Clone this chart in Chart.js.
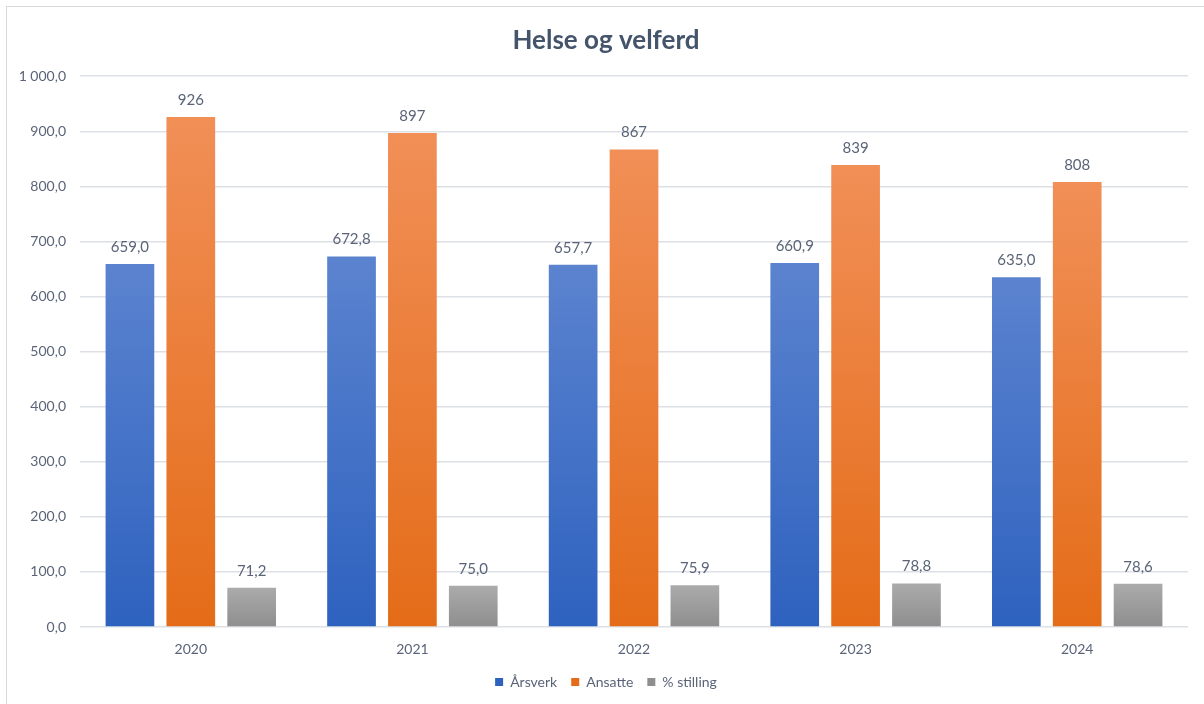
<!DOCTYPE html>
<html>
<head>
<meta charset="utf-8">
<script src="https://cdn.jsdelivr.net/npm/chart.js@4/dist/chart.umd.min.js"></script>
<style>
  html, body { margin: 0; padding: 0; background: #fff; }
  #wrap { width: 1204px; height: 704px; position: relative; }
</style>
</head>
<body>
<div id="wrap"><canvas id="helseChart" width="1204" height="704"></canvas></div>
<script>
// data
const years = ['2020', '2021', '2022', '2023', '2024'];
const arsverk = [659.0, 672.8, 657.7, 660.9, 635.0];
const ansatte = [926, 897, 867, 839, 808];
const stilling = [71.2, 75.0, 75.9, 78.8, 78.6];
const yTicks = [0, 100, 200, 300, 400, 500, 600, 700, 800, 900, 1000];

const textColor = '#5A6478';
const fontFamily = 'Lato, "Liberation Sans", sans-serif';

// 0,0 / 1 000,0 style
function fmt(v, dec) {
    const s = v.toFixed(dec).split('.');
    const intPart = s[0].replace(/\B(?=(\d{3})+(?!\d))/g, ' ');
    return s.length > 1 ? intPart + ',' + s[1] : intPart;
}

// gradient per bar, top lighter than bottom
function barFill(top, bottom, solid) {
    return (c) => {
        const chart = c.chart;
        if (c.type !== 'data' || !chart.chartArea) return solid;
        const y = chart.scales.y;
        const y0 = y.getPixelForValue(c.raw);
        const y1 = y.getPixelForValue(0);
        const g = chart.ctx.createLinearGradient(0, y0, 0, y1);
        g.addColorStop(0, top);
        g.addColorStop(1, bottom);
        return g;
    };
}

// labels over the bars
const valueLabels = {
    id: 'valueLabels',
    afterLayout(chart) {
        // y labels are wider than the axis box, don't clip them
        chart.scales.y._computeLabelArea = () => undefined;
    },
    afterDatasetsDraw(chart) {
        const ctx = chart.ctx;
        ctx.save();
        ctx.font = '15px ' + fontFamily;
        ctx.fillStyle = textColor;
        ctx.textAlign = 'center';
        ctx.textBaseline = 'middle';
        chart.data.datasets.forEach((ds, i) => {
            const meta = chart.getDatasetMeta(i);
            meta.data.forEach((bar, j) => {
                ctx.fillText(fmt(ds.data[j], ds.decimals), bar.x, bar.y - 17);
            });
        });
        ctx.restore();
    }
};

// thin frame round the chart
const frame = {
    id: 'frame',
    beforeDraw(chart) {
        const ctx = chart.ctx;
        ctx.save();
        ctx.fillStyle = '#fff';
        ctx.fillRect(0, 0, chart.width, chart.height);
        ctx.strokeStyle = '#D9D9D9';
        ctx.lineWidth = 1;
        ctx.strokeRect(6.5, 6.5, chart.width, chart.height);
        ctx.restore();
    }
};

new Chart(document.getElementById('helseChart').getContext('2d'), {
    type: 'bar',
    data: {
        labels: years,
        datasets: [{
            label: 'Årsverk',
            data: arsverk,
            decimals: 1,
            backgroundColor: barFill('#5B83CF', '#2E62BF', '#4472C4')
        }, {
            label: 'Ansatte',
            data: ansatte,
            decimals: 0,
            backgroundColor: barFill('#F18F57', '#E46C18', '#ED7D31')
        }, {
            label: '% stilling',
            data: stilling,
            decimals: 1,
            backgroundColor: barFill('#ABABAB', '#8E8E8E', '#A5A5A5')
        }]
    },
    options: {
        responsive: false,
        animation: false,
        categoryPercentage: 0.824,
        barPercentage: 0.8,
        layout: { padding: { left: 24, right: 16, top: 0, bottom: 5 } },
        plugins: {
            title: {
                display: true,
                text: 'Helse og velferd',
                color: '#44546A',
                font: { family: fontFamily, size: 26, weight: 'bold' },
                padding: { top: 25, bottom: 20 }
            },
            legend: {
                position: 'bottom',
                labels: {
                    color: textColor,
                    font: { family: fontFamily, size: 14 },
                    boxWidth: 8,
                    boxHeight: 8,
                    padding: 14
                }
            },
            tooltip: { enabled: false }
        },
        scales: {
            x: {
                grid: { display: false },
                border: { display: false },
                ticks: {
                    color: textColor,
                    font: { family: fontFamily, size: 14 },
                    padding: 6
                },
                afterFit(scale) { scale.height = 34; }
            },
            y: {
                min: 0,
                max: 1000,
                afterBuildTicks(scale) { scale.ticks = yTicks.map(v => ({ value: v })); },
                grid: { color: '#DDE0E5', lineWidth: 1.5, drawTicks: false },
                border: { display: false },
                ticks: {
                    color: textColor,
                    font: { family: fontFamily, size: 14 },
                    padding: 14,
                    callback: (v) => fmt(v, 1)
                },
                afterFit(scale) { scale.width = 56; }
            }
        }
    },
    plugins: [frame, valueLabels]
});
</script>
</body>
</html>
